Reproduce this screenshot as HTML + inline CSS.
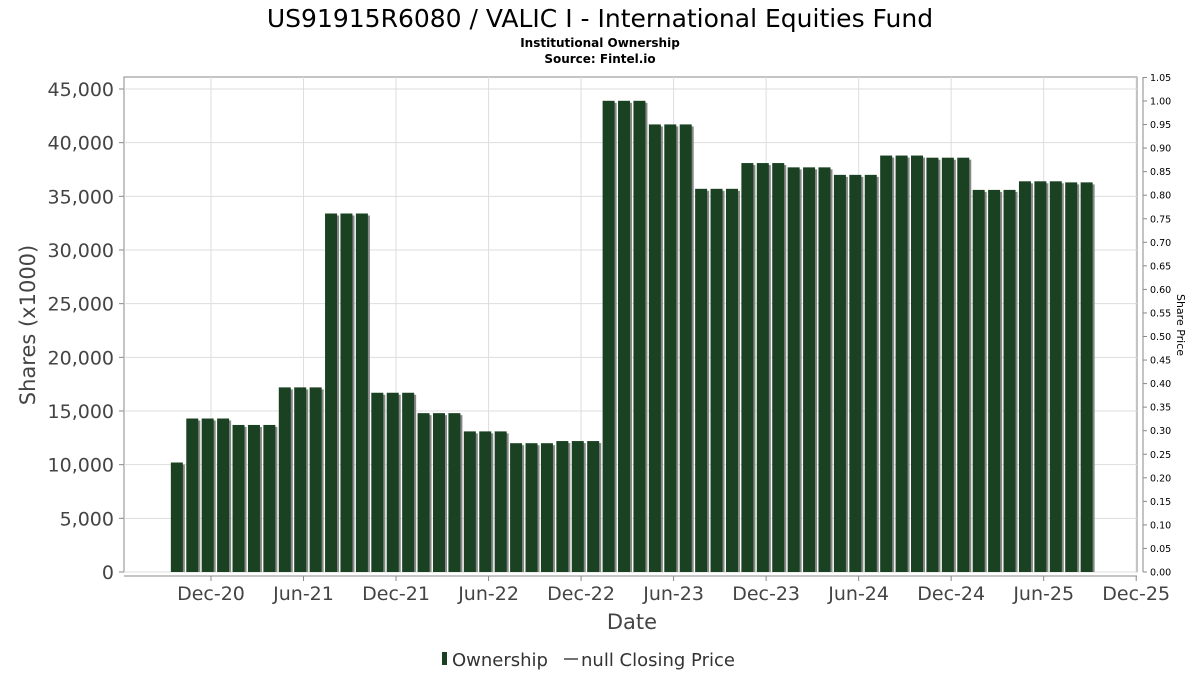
<!DOCTYPE html>
<html><head><meta charset="utf-8"><style>
body{margin:0;background:#fff;font-family:"DejaVu Sans","Liberation Sans",sans-serif}
</style></head><body>
<svg id="c" width="1200" height="675" xmlns="http://www.w3.org/2000/svg" font-family="DejaVu Sans, Liberation Sans, sans-serif">
<text x="600" y="27" font-size="25" text-anchor="middle" fill="#000">US91915R6080 / VALIC I - International Equities Fund</text>
<text x="600" y="47" font-size="12" font-weight="bold" text-anchor="middle">Institutional Ownership</text>
<text x="600" y="63" font-size="12" font-weight="bold" text-anchor="middle">Source: Fintel.io</text>
<rect x="124" y="77" width="1013" height="495" fill="#fff" stroke="#888"/>
<g id="grid"></g><g id="bars"></g><g id="axes"></g>
<text x="632" y="629" font-size="21" fill="#444" text-anchor="middle">Date</text>
<text transform="translate(35,325) rotate(-90)" font-size="21" fill="#444" text-anchor="middle">Shares (x1000)</text>
<text transform="translate(1177,325) rotate(90)" font-size="11" fill="#000" text-anchor="middle">Share Price</text>
<g>
<rect x="442" y="652" width="5" height="13" fill="#1a4222"/>
<text x="452" y="666" font-size="18" fill="#333">Ownership</text>
<line x1="564" y1="659" x2="578" y2="659" stroke="#444" stroke-width="1.5"/>
<text x="581" y="666" font-size="18" fill="#333">null Closing Price</text>
</g>
</svg>
<script>
const ownership=[10200,14300,14300,14300,13700,13700,13700,17200,17200,17200,33400,33400,33400,16700,16700,16700,14800,14800,14800,13100,13100,13100,12000,12000,12000,12200,12200,12200,43900,43900,43900,41700,41700,41700,35700,35700,35700,38100,38100,38100,37700,37700,37700,37000,37000,37000,38800,38800,38800,38600,38600,38600,35600,35600,35600,36400,36400,36400,36300,36300];
const firstBarMonth=-2.15; // months relative to Dec-20
const xTickLabels=["Dec-20","Jun-21","Dec-21","Jun-22","Dec-22","Jun-23","Dec-23","Jun-24","Dec-24","Jun-25","Dec-25"];
const yTicks=[0,5000,10000,15000,20000,25000,30000,35000,40000,45000];
const rightTicks=[0,0.05,0.1,0.15,0.2,0.25,0.3,0.35,0.4,0.45,0.5,0.55,0.6,0.65,0.7,0.75,0.8,0.85,0.9,0.95,1.0,1.05];
const NS="http://www.w3.org/2000/svg";
const xm=m=>211+m*15.42;
const y=v=>572-v*(483/45000);
const yr=v=>572-v*(471/1.0);
function mk(t,a,p){const e=document.createElementNS(NS,t);for(const k in a)e.setAttribute(k,a[k]);p.appendChild(e);return e;}
const grid=document.getElementById('grid'),bars=document.getElementById('bars'),axes=document.getElementById('axes');
yTicks.forEach(v=>{
  const l=mk('line',{x1:124,x2:1137,y1:y(v),y2:y(v),stroke:'#ddd'},grid);
  
  
  const tk=mk('line',{x1:119,x2:124,y1:y(v),y2:y(v),stroke:'#888'},axes);
  
  
  const t=mk('text',{x:114,y:y(v)+7,'font-size':19,fill:'#444','text-anchor':'end'},axes);
  t.textContent=v.toLocaleString('en-US');
  
  
});
xTickLabels.forEach((s,i)=>{
  const x=xm(i*6);
  const l=mk('line',{x1:x,x2:x,y1:77,y2:572,stroke:'#ddd'},grid);
  
  
  const tk=mk('line',{x1:x,x2:x,y1:576,y2:581,stroke:'#888'},axes);
  
  
  const t=mk('text',{x:x,y:600,'font-size':19,fill:'#444','text-anchor':'middle'},axes);
  t.textContent=s;
  
  
});
const xa=mk('line',{x1:124,x2:1137,y1:576,y2:576,stroke:'#888'},axes);


const ra=mk('line',{x1:1143,x2:1143,y1:77,y2:572,stroke:'#888'},axes);


rightTicks.forEach(v=>{
  const tk=mk('line',{x1:1143,x2:1147,y1:yr(v),y2:yr(v),stroke:'#888'},axes);
  
  
  const t=mk('text',{x:1150,y:yr(v)+3.5,'font-size':9.5,fill:'#000'},axes);
  t.textContent=v.toFixed(2);
  
  
});
ownership.forEach((v,i)=>{
  const cx=xm(firstBarMonth+i);
  const s=mk('rect',{x:cx-5,y:y(v)+2,width:12,height:572-y(v)-2,fill:'#888'},bars);
  
  
  const b=mk('rect',{x:cx-7,y:y(v),width:12,height:572-y(v),fill:'#1a4222'},bars);
  
  
});
</script>
</body></html>
